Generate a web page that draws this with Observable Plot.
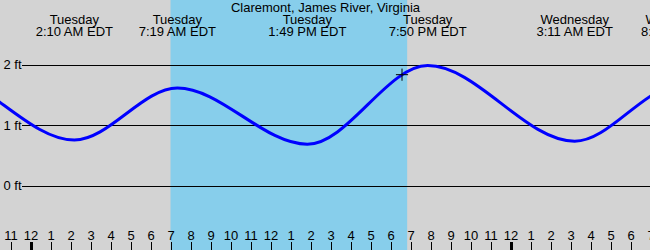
<!DOCTYPE html>
<html>
<head>
<meta charset="utf-8">
<script src="https://cdn.jsdelivr.net/npm/d3@7"></script>
<script src="https://cdn.jsdelivr.net/npm/@observablehq/plot@0.6"></script>
<style>
  html, body { margin: 0; padding: 0; overflow: hidden; background: #d3d3d3; }
</style>
</head>
<body>
<div id="chart"></div>
<script>
// ---- data ----
const stationTitle = "Claremont, James River, Virginia";
const timeZone = "EDT";
// tide extremes (hi / lo); the outer ones lie outside the visible window
const tideDays    = ["Monday", "Monday", "Tuesday", "Tuesday", "Tuesday", "Tuesday", "Wednesday", "Wednesday", "Wednesday"];
const tideTimes   = ["12:40 PM", "7:10 PM", "2:10 AM", "7:19 AM", "1:49 PM", "7:50 PM", "3:11 AM", "8:26 AM", "2:50 PM"];
const tideHeights = [0.70, 1.90, 0.76, 1.62, 0.69, 1.99, 0.74, 1.66, 0.70];
// daylight band
const daylightStart = ["Tuesday", "7:00 AM"];
const daylightEnd   = ["Tuesday", "6:50 PM"];
// current time marker
const nowDay = ["Tuesday"];
const nowTime = ["6:33 PM"];
const nowHeight = [1.84];
// y gridlines (ft)
const yTicks = [0, 1, 2];
// visible window, hours from Tuesday 00:00
const windowHours = [-1.5, 31];
const hourTicks = d3.range(-1, 32);

// ---- helpers ----
const dayOffset = {Monday: -24, Tuesday: 0, Wednesday: 24};
function toHours(day, t) {
  const [hm, ap] = t.split(" ");
  let [h, m] = hm.split(":").map(Number);
  if (ap === "PM" && h !== 12) h += 12;
  if (ap === "AM" && h === 12) h = 0;
  return dayOffset[day] + h + m / 60;
}
const tides = tideDays.map((d, i) => ({
  hour: toHours(d, tideTimes[i]),
  height: tideHeights[i],
  label: `${d}\n${tideTimes[i]} ${timeZone}`
}));
// only label extremes whose text can reach the window
const labeled = tides.filter(d => d.hour > windowHours[0] - 2 && d.hour < windowHours[1] + 2);
const daylight = [{x1: toHours(...daylightStart), x2: toHours(...daylightEnd)}];
const now = nowDay.map((d, i) => ({hour: toHours(d, nowTime[i]), height: nowHeight[i]}));
const hourLabel = h => String(((h % 12) + 12) % 12 || 12);

const font = "'Liberation Sans', Arial, Helvetica, sans-serif";

const chart = Plot.plot({
  width: 650,
  height: 250,
  marginTop: 0, marginRight: 0, marginBottom: 0, marginLeft: 0,
  style: {background: "#d3d3d3", fontFamily: font, fontSize: "13px", overflow: "hidden"},
  x: {domain: windowHours, range: [0.5, 650.5], axis: null},
  y: {domain: [0, 2], range: [185.5, 64.5], axis: null},
  marks: [
    Plot.rect(daylight, {x1: "x1", x2: "x2", fill: "#87ceeb"}),
    Plot.ruleY(yTicks, {y: d => d, stroke: "black", strokeWidth: 1, insetLeft: 22, shapeRendering: "crispEdges"}),
    Plot.text(yTicks, {y: d => d, text: d => `${d} ft`, frameAnchor: "left", textAnchor: "start", dx: 3, fill: "black", fontSize: 13}),
    Plot.line(tides, {x: "hour", y: "height", curve: "monotone-x", stroke: "#0000ff", strokeWidth: 3, clip: true}),
    Plot.dot(now, {x: "hour", y: "height", symbol: "plus", r: 4, stroke: "black", strokeWidth: 1}),
    Plot.text([stationTitle], {text: d => d, frameAnchor: "top", lineAnchor: "top", dy: 2, fill: "black", fontSize: 13}),
    Plot.text(labeled, {x: "hour", text: "label", frameAnchor: "top", lineAnchor: "top", dy: 14.5, lineHeight: 0.93, fill: "black", fontSize: 13}),
    Plot.ruleX(hourTicks, {x: d => d, stroke: "black", strokeWidth: d => (d % 24 === 0 ? 3 : 1), insetTop: 242, shapeRendering: "crispEdges"}),
    Plot.text(hourTicks, {x: d => d, text: hourLabel, frameAnchor: "bottom", lineAnchor: "middle", dy: -15, fill: "black", fontSize: 13})
  ]
});
document.getElementById("chart").appendChild(chart);
</script>
</body>
</html>
